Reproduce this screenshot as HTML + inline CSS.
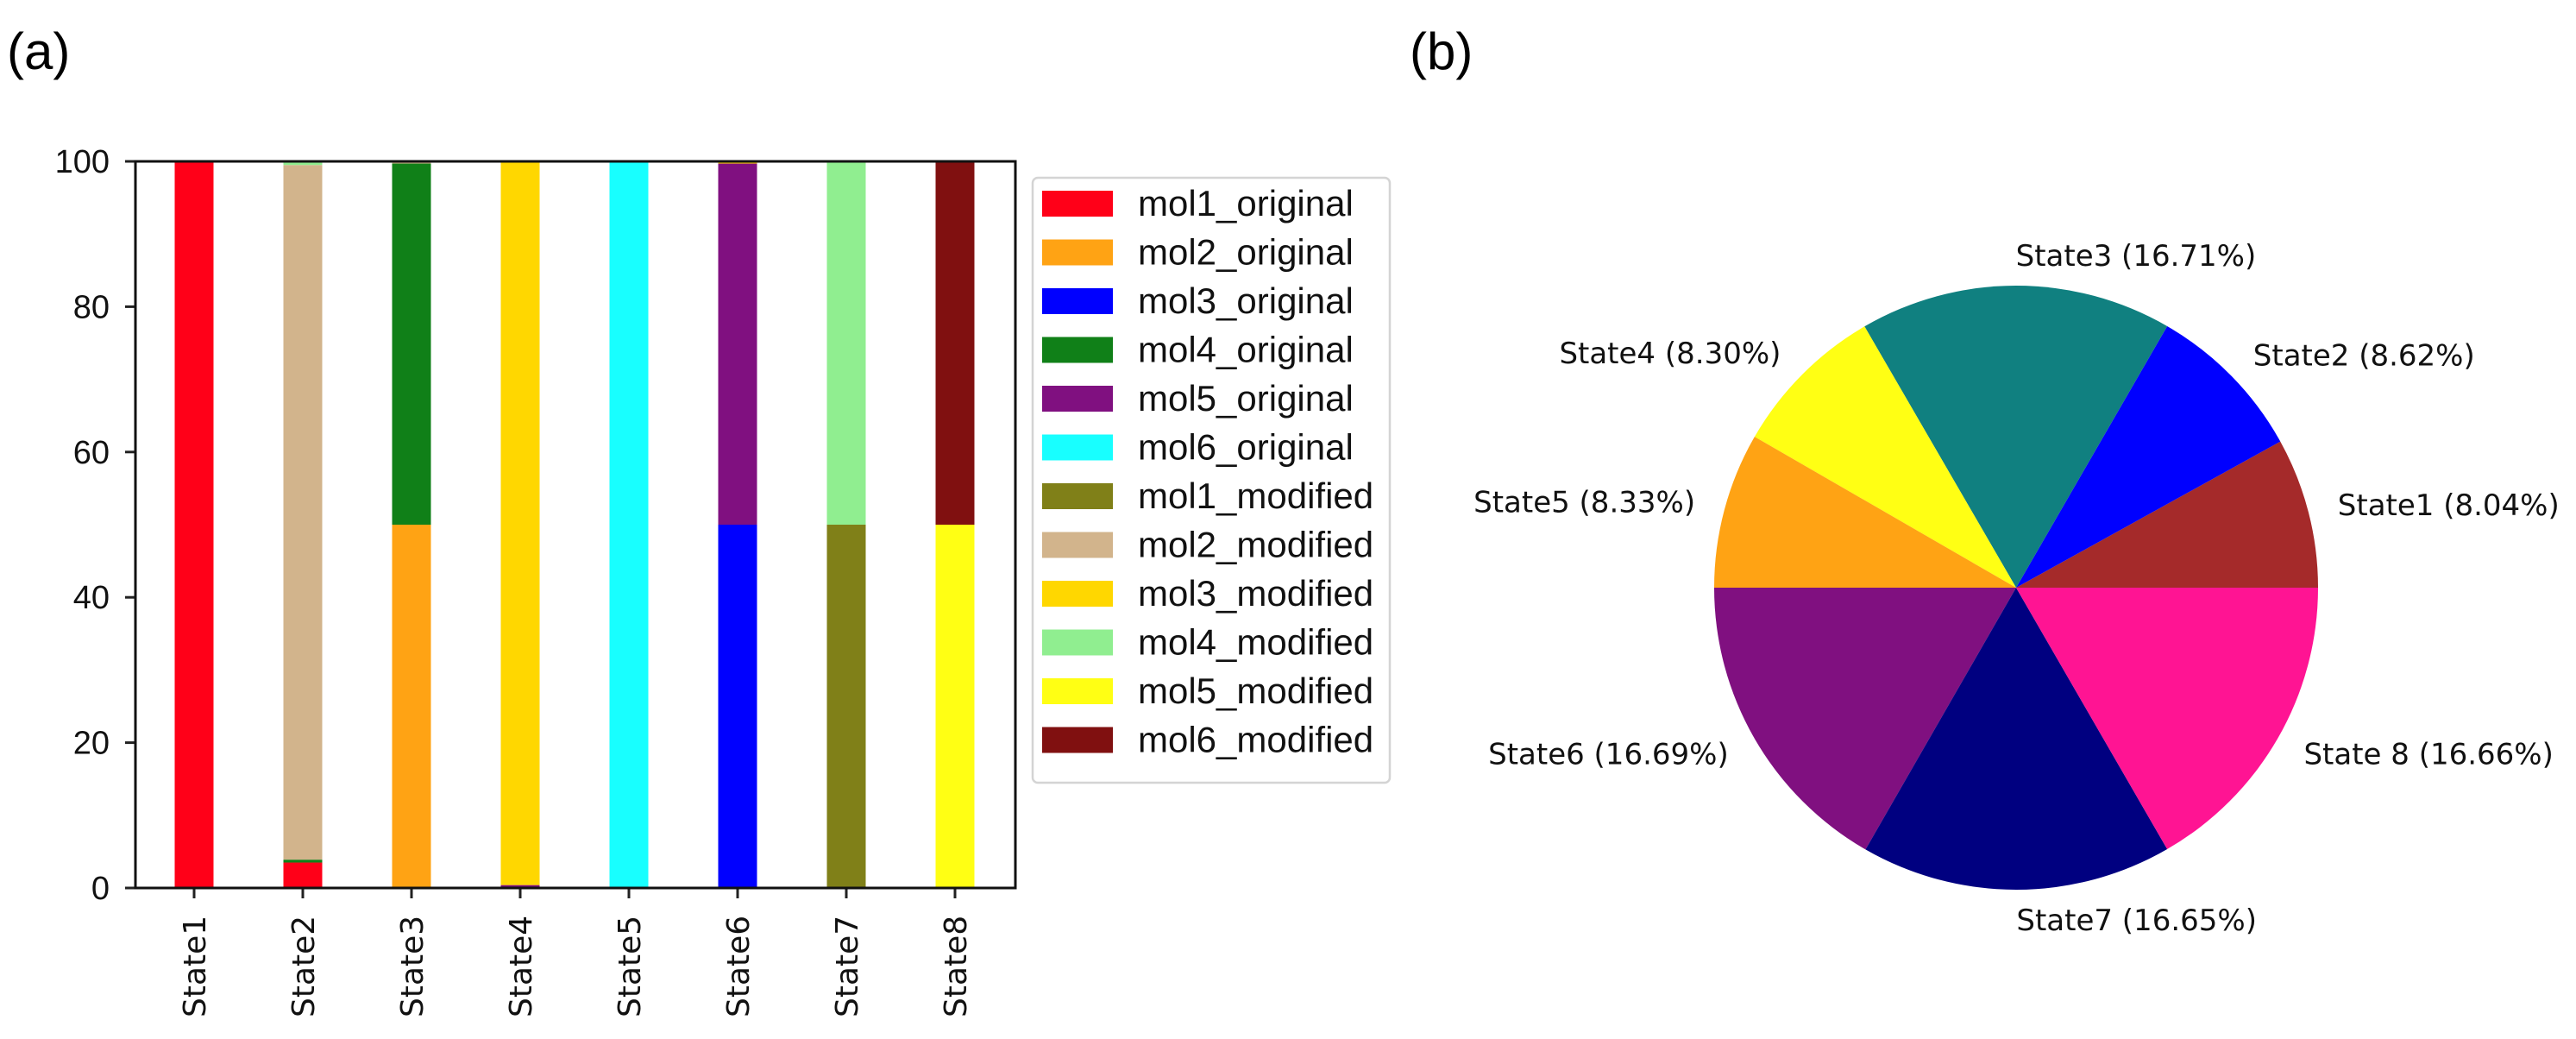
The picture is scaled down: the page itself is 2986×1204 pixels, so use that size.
<!DOCTYPE html>
<html><head><meta charset="utf-8"><style>
html,body{margin:0;padding:0;background:#fff;}
svg{display:block;}
</style></head><body>
<svg id="fig" width="2986" height="1204" viewBox="0 0 2986 1204" xmlns="http://www.w3.org/2000/svg">
<text x="8" y="80" font-family="Liberation Sans, sans-serif" font-size="60" fill="#000">(a)</text>
<text x="1634" y="80" font-family="Liberation Sans, sans-serif" font-size="60" fill="#000">(b)</text>
<g id="bars"></g>
<g id="legend"></g>
<g id="pie"></g>
</svg>
<script>
const categories = ["State1","State2","State3","State4","State5","State6","State7","State8"];
const seriesNames = ["mol1_original","mol2_original","mol3_original","mol4_original","mol5_original","mol6_original","mol1_modified","mol2_modified","mol3_modified","mol4_modified","mol5_modified","mol6_modified"];
const seriesColors = ["#ff0018","#ffa314","#0000ff","#108018","#801080","#18ffff","#808018","#d2b48c","#ffd700","#90ee90","#ffff14","#801010"];
const mol1_original = [100, 3.5, 0, 0, 0, 0, 0, 0];
const mol2_original = [0, 0, 50, 0, 0, 0, 0, 0];
const mol3_original = [0, 0, 0, 0, 0, 50, 0, 0];
const mol4_original = [0, 0.4, 49.7, 0, 0, 0, 0, 0];
const mol5_original = [0, 0, 0, 0.4, 0, 49.7, 0, 0];
const mol6_original = [0, 0, 0, 0, 100, 0, 0, 0];
const mol1_modified = [0, 0, 0, 0, 0, 0, 50, 0];
const mol2_modified = [0, 95.6, 0.3, 0, 0, 0, 0, 0];
const mol3_modified = [0, 0, 0, 99.6, 0, 0.3, 0, 0];
const mol4_modified = [0, 0.5, 0, 0, 0, 0, 50, 0];
const mol5_modified = [0, 0, 0, 0, 0, 0, 0, 50];
const mol6_modified = [0, 0, 0, 0, 0, 0, 0, 50];
const seriesValues = [mol1_original,mol2_original,mol3_original,mol4_original,mol5_original,mol6_original,mol1_modified,mol2_modified,mol3_modified,mol4_modified,mol5_modified,mol6_modified];
const yTicks = [0,20,40,60,80,100];

const pieLabels = ["State1","State2","State3","State4","State5","State6","State7","State 8"];
const pieValues = [8.04, 8.62, 16.71, 8.30, 8.33, 16.69, 16.65, 16.66];
const pieColors = ["#a52a2a","#0000ff","#108080","#ffff14","#ffa314","#801080","#000080","#ff1493"];

const NS="http://www.w3.org/2000/svg";
function mk(tag, attrs, parent){const e=document.createElementNS(NS,tag);for(const k in attrs)e.setAttribute(k,attrs[k]);parent.appendChild(e);return e;}

const AX={l:157,r:1177,t:187,b:1029};
const ymax=100;
function yS(v){return AX.b-(v/ymax)*(AX.b-AX.t);}
function xS(i){return AX.l+68+i*126;}
const bw=45;
const gb=document.getElementById('bars');
categories.forEach((c,i)=>{
  let acc=0;
  seriesValues.forEach((arr,s)=>{
    const v=arr[i]; if(v<=0) return;
    const r=mk('rect',{x:xS(i)-bw/2,y:yS(acc+v),width:bw,height:yS(acc)-yS(acc+v),fill:seriesColors[s]},gb);
    
    
    acc+=v;
  });
  const t=mk('line',{x1:xS(i),x2:xS(i),y1:AX.b,y2:AX.b+12,stroke:'#222','stroke-width':3},gb);
  
  
  const lx=xS(i)+13, ly=AX.b+150;
  const tx=mk('text',{x:lx,y:ly,transform:`rotate(-90 ${lx} ${ly})`,'font-family':'DejaVu Sans, sans-serif','font-size':36,fill:'#111','text-anchor':'start'},gb);
  tx.textContent=c;
  
  
});
yTicks.forEach(v=>{
  const t=mk('line',{x1:AX.l-12,x2:AX.l,y1:yS(v),y2:yS(v),stroke:'#222','stroke-width':3},gb);
  
  
  const tx=mk('text',{x:AX.l-30,y:yS(v)+13,'font-family':'Liberation Sans, sans-serif','font-size':38,fill:'#111','text-anchor':'end'},gb);
  tx.textContent=v;
  
  
});
const frame=mk('rect',{x:AX.l,y:AX.t,width:AX.r-AX.l,height:AX.b-AX.t,fill:'none',stroke:'#111','stroke-width':3},gb);



const gl=document.getElementById('legend');
const lb=mk('rect',{x:1197,y:206,width:414,height:701,rx:6,fill:'#fff',stroke:'#d4d4d4','stroke-width':2.5},gl);


seriesNames.forEach((n,s)=>{
  const cy=236+s*56.5;
  const sw=mk('rect',{x:1208,y:cy-15,width:82,height:30,fill:seriesColors[s]},gl);
  
  
  const tx=mk('text',{x:1319,y:cy+14,'font-family':'Liberation Sans, sans-serif','font-size':42,fill:'#111'},gl);
  tx.textContent=n;
  
  
});

const gp=document.getElementById('pie');
const cx=2337, cy=681, R=350;
const total=pieValues.reduce((a,b)=>a+b,0);
let a0=0;
pieValues.forEach((v,i)=>{
  const a1=a0+v/total*2*Math.PI;
  const x0=cx+R*Math.cos(a0), y0=cy-R*Math.sin(a0);
  const x1=cx+R*Math.cos(a1), y1=cy-R*Math.sin(a1);
  const large=(a1-a0)>Math.PI?1:0;
  const p=mk('path',{d:`M${cx},${cy} L${x0},${y0} A${R},${R} 0 ${large} 0 ${x1},${y1} Z`,fill:pieColors[i]},gp);
  
  
  const am=(a0+a1)/2;
  const lx=cx+1.1*R*Math.cos(am), ly=cy-1.1*R*Math.sin(am);
  const tx=mk('text',{x:lx,y:ly+12,'font-family':'DejaVu Sans, sans-serif','font-size':34,fill:'#111','text-anchor':Math.cos(am)>=-0.001?'start':'end'},gp);
  tx.textContent=pieLabels[i]+' ('+v.toFixed(2)+'%)';
  
  
  a0=a1;
});
</script>
</body></html>
